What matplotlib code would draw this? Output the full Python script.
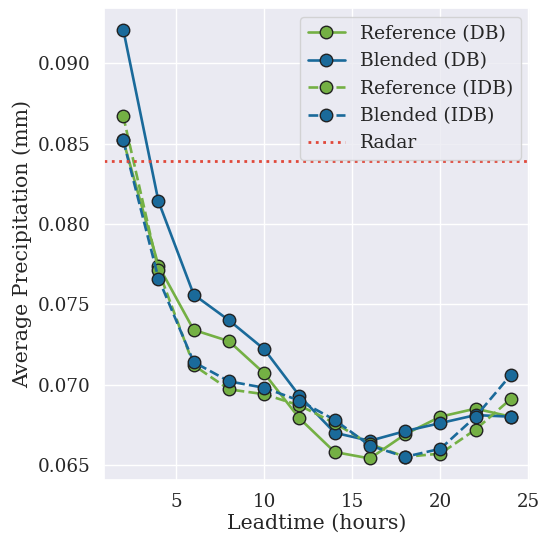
import numpy as np
import matplotlib
matplotlib.use("Agg")
import matplotlib.pyplot as plt
import seaborn as sns

sns.set_theme(style="darkgrid")
plt.rcParams['font.family'] = ['DejaVu Serif']

leadtime = [2, 4, 6, 8, 10, 12, 14, 16, 18, 20, 22, 24]
ref_db = [0.0852, 0.0774, 0.0734, 0.0727, 0.0707, 0.0679, 0.0658, 0.0654, 0.0669, 0.0680, 0.0685, 0.0680]
blend_db = [0.0921, 0.0814, 0.0756, 0.0740, 0.0722, 0.0693, 0.0670, 0.0665, 0.0671, 0.0676, 0.0681, 0.0680]
ref_idb = [0.0867, 0.0771, 0.0712, 0.0697, 0.0694, 0.0687, 0.0676, 0.0663, 0.0655, 0.0657, 0.0672, 0.0691]
blend_idb = [0.0852, 0.0766, 0.0714, 0.0702, 0.0698, 0.0690, 0.0678, 0.0662, 0.0655, 0.0660, 0.0680, 0.0706]
radar = 0.0839

green = "#74b044"
blue = "#1a6a9a"
red = "#e0483a"

fig, ax = plt.subplots(figsize=(5.41, 5.38), dpi=100)
fig.subplots_adjust(left=0.192, right=0.980, top=0.985, bottom=0.108)

mk = dict(marker='o', markersize=9, markeredgecolor='#222222', markeredgewidth=1.0, lw=1.9)
ax.plot(leadtime, ref_db, color=green, ls='-', label='Reference (DB)', **mk)
ax.plot(leadtime, blend_db, color=blue, ls='-', label='Blended (DB)', **mk)
ax.plot(leadtime, ref_idb, color=green, ls='--', label='Reference (IDB)', **mk)
ax.plot(leadtime, blend_idb, color=blue, ls='--', label='Blended (IDB)', **mk)
ax.axhline(radar, color=red, ls=':', lw=2, label='Radar')

ax.set_xticks([5, 10, 15, 20, 25])
ax.set_yticks([0.065, 0.070, 0.075, 0.080, 0.085, 0.090])
ax.set_yticklabels(['0.065', '0.070', '0.075', '0.080', '0.085', '0.090'])
ax.tick_params(labelsize=13.2)
ax.set_xlabel('Leadtime (hours)', fontsize=14.8, labelpad=2)
ax.set_ylabel('Average Precipitation (mm)', fontsize=14.8)
ax.legend(loc='upper right', fontsize=13.5)

fig.savefig('out.png', dpi=100)
